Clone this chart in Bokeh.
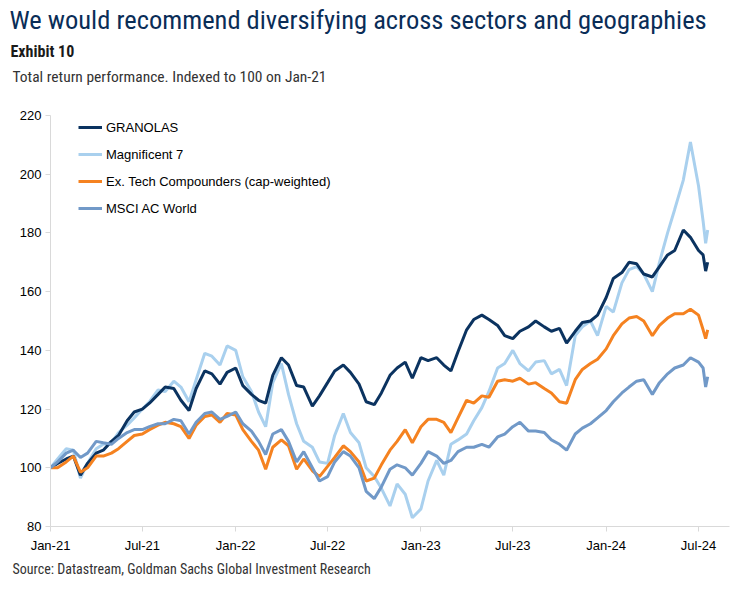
import pandas as pd
from bokeh.plotting import figure
from bokeh.models import FixedTicker, Legend, LegendItem, DatetimeTickFormatter, Title
from bokeh.embed import file_html
from bokeh.resources import INLINE

# ---- data (semi-monthly) ----
dates = []
for yr in (2021, 2022, 2023):
    for m in range(1, 13):
        dates += [f"{yr}-{m:02d}-01", f"{yr}-{m:02d}-15"]
for m in range(1, 7):
    dates += [f"2024-{m:02d}-01", f"2024-{m:02d}-15"]
dates += ["2024-07-01", "2024-07-10", "2024-07-15", "2024-07-19"]

granolas = [100, 101.5, 103, 104, 97.5, 101.5, 105, 106, 109, 111, 116, 119, 120, 122, 125, 127.5, 127, 123, 119.5, 127, 133, 132, 128.5, 132.5,
            134, 128, 125, 123, 122, 131.5, 137.5, 135, 128, 127.5, 121, 124.5, 129, 133, 135, 132.5, 128.5, 122.5, 121.5, 125.5, 131.5, 134, 136, 130.5,
            137.5, 136.5, 137.5, 135, 133, 139.5, 147, 150.5, 152, 150.5, 148.5, 145, 144, 146.5, 148, 150, 148, 146.5, 147.5, 142.5, 146.5, 149.5, 150, 152,
            158, 164.5, 166.5, 170, 169.5, 166, 165, 168.5, 172.5, 174, 181, 178.5, 174, 172.5, 167, 170]
magnificent7 = [100, 103, 106.5, 106, 96.5, 101.5, 106.5, 108, 108.5, 112, 114.5, 117, 120, 122.5, 126.5, 126, 129.5, 127.5, 122.5, 130, 139, 138, 135, 141.5,
                140, 131, 126, 119, 114, 129, 135.5, 125, 115, 109, 107, 102, 101.5, 111, 118.5, 112, 108.5, 100, 97, 93, 87, 94.5, 91, 83,
                86, 95.5, 102.5, 97.5, 108, 109.5, 111.5, 116, 120.5, 126, 134, 135.5, 140, 135.5, 133, 136, 136.5, 132, 133.5, 128, 145, 148, 150, 145,
                155, 153, 163, 167.5, 168.5, 166, 160, 170, 180, 188, 198, 211, 196, 184, 176.5, 181]
ex_tech = [100, 100, 102, 104, 98.5, 100, 104, 104, 105, 106.5, 109, 111, 111.5, 113, 114.5, 115.5, 115, 114, 110, 114.5, 117.5, 118, 115.5, 118.5,
           118, 113, 109, 106, 99.5, 107, 109.5, 107.5, 99.5, 103, 99, 97, 100.5, 103.5, 107.5, 105.5, 102, 95.5, 96.5, 101, 106, 109, 113, 108.5,
           114, 116.5, 116.5, 115.5, 112, 117, 123, 122, 124.5, 124, 129.5, 130, 129.5, 130.5, 128.5, 129, 127, 125.5, 122.5, 122, 130, 133.5, 135.5, 137,
           140.5, 145, 149, 151, 151.5, 150, 145, 148.5, 151, 152.5, 152.5, 154, 152, 147, 144, 147]
msci_acwi = [100, 102, 105, 106, 103.5, 105, 109, 108.5, 108, 110, 112, 113, 113, 114, 115, 115, 116.5, 116, 111.5, 115.5, 118.5, 119, 116.5, 117.5,
             119, 115, 112.5, 109, 104.5, 111.5, 113, 109, 102, 105.5, 100, 95.5, 97, 102, 105.5, 104, 100, 92, 89.5, 93.5, 99.5, 101, 100, 97.5,
             101.5, 105.5, 104, 101.5, 102.5, 105.5, 107, 107, 108, 107, 110.5, 111.5, 114, 115.5, 112.5, 112.5, 112, 109.5, 108, 106, 111.5, 113.5, 115, 117,
             119.5, 122.5, 125.5, 127.5, 129.5, 130, 125, 129, 132, 134, 135, 137.5, 136, 134, 127.5, 131]

series_names = ["GRANOLAS", "Magnificent 7", "Ex. Tech Compounders (cap-weighted)", "MSCI AC World"]
series_colors = ["#0b3360", "#a9d0ee", "#f58220", "#7199c8"]

x_tick_dates = ["2021-01-01", "2021-07-01", "2022-01-01", "2022-07-01", "2023-01-01", "2023-07-01", "2024-01-01", "2024-07-01"]
x_tick_labels = ["Jan-21", "Jul-21", "Jan-22", "Jul-22", "Jan-23", "Jul-23", "Jan-24", "Jul-24"]
y_ticks = [80, 100, 120, 140, 160, 180, 200, 220]

# ---- figure ----
x = pd.to_datetime(dates)
p = figure(width=741, height=590, x_axis_type="datetime", output_backend="svg", toolbar_location=None,
           x_range=(pd.Timestamp("2021-01-01"), pd.Timestamp("2024-08-31")), y_range=(80, 220),
           min_border_left=50, min_border_right=12, min_border_top=0, min_border_bottom=64)
p.title.visible = False
p.outline_line_color = None
p.xgrid.visible = False
p.ygrid.visible = False
p.background_fill_color = "white"
p.border_fill_color = "white"

tick_ms = [pd.Timestamp(d).value / 1e6 for d in x_tick_dates]
p.xaxis.ticker = FixedTicker(ticks=tick_ms)
p.xaxis.formatter = DatetimeTickFormatter(years="%b-%y", months="%b-%y", days="%b-%y", hours="%b-%y",
                                          minutes="%b-%y", seconds="%b-%y", milliseconds="%b-%y",
                                          microseconds="%b-%y", hourmin="%b-%y", minsec="%b-%y")
p.xaxis.major_label_overrides = {t: lab for t, lab in zip(tick_ms, x_tick_labels)}
p.yaxis.ticker = FixedTicker(ticks=y_ticks)

for ax in (p.xaxis[0], p.yaxis[0]):
    ax.axis_line_color = "#d9d9d9"
    ax.major_tick_line_color = "#d9d9d9"
    ax.major_tick_out = 5
    ax.major_tick_in = 0
    ax.minor_tick_line_color = None
    ax.major_label_text_font = "Liberation Sans"
    ax.major_label_text_font_size = "13px"
    ax.major_label_text_color = "#000000"
p.yaxis.major_label_standoff = 4
p.xaxis.major_label_standoff = 6

values = [granolas, magnificent7, ex_tech, msci_acwi]
renderers = {}
for idx in [1, 0, 2, 3]:
    renderers[idx] = p.line(x, values[idx], line_color=series_colors[idx], line_width=3)

legend = Legend(items=[LegendItem(label=series_names[i], renderers=[renderers[i]]) for i in range(4)],
                location=(28, 308), orientation="vertical", border_line_color=None,
                background_fill_alpha=0, padding=0, margin=0, spacing=7,
                glyph_width=24, glyph_height=20, label_height=20, label_standoff=4,
                label_text_font="Liberation Sans", label_text_font_size="13px", label_text_color="#000000")
p.add_layout(legend)

FONT = "Roboto Condensed"
# titles: inner-most first (spacer, subtitle, exhibit, main title)
p.add_layout(Title(text=" ", align="left", standoff=27, text_font=FONT, text_font_size="1px"), "above")
p.add_layout(Title(text="Total return performance. Indexed to 100 on Jan-21", align="left", offset=-38,
                   standoff=0, text_font=FONT, text_font_size="15.5px", text_font_style="normal",
                   text_color="#333333"), "above")
p.add_layout(Title(text="Exhibit 10", align="left", offset=-40, standoff=9, text_font=FONT,
                   text_font_size="16px", text_font_style="bold", text_color="#1a1a1a"), "above")
p.add_layout(Title(text="We would recommend diversifying across sectors and geographies", align="left",
                   offset=-41, standoff=2, text_font=FONT, text_font_size="26.5px", text_font_style="normal",
                   text_color="#0a2d57"), "above")
p.add_layout(Title(text="Source: Datastream, Goldman Sachs Global Investment Research", align="left",
                   offset=-38, standoff=7, text_font=FONT, text_font_size="14px", text_font_style="normal",
                   text_color="#333333"), "below")

open("out.html", "w").write(file_html(p, INLINE))
